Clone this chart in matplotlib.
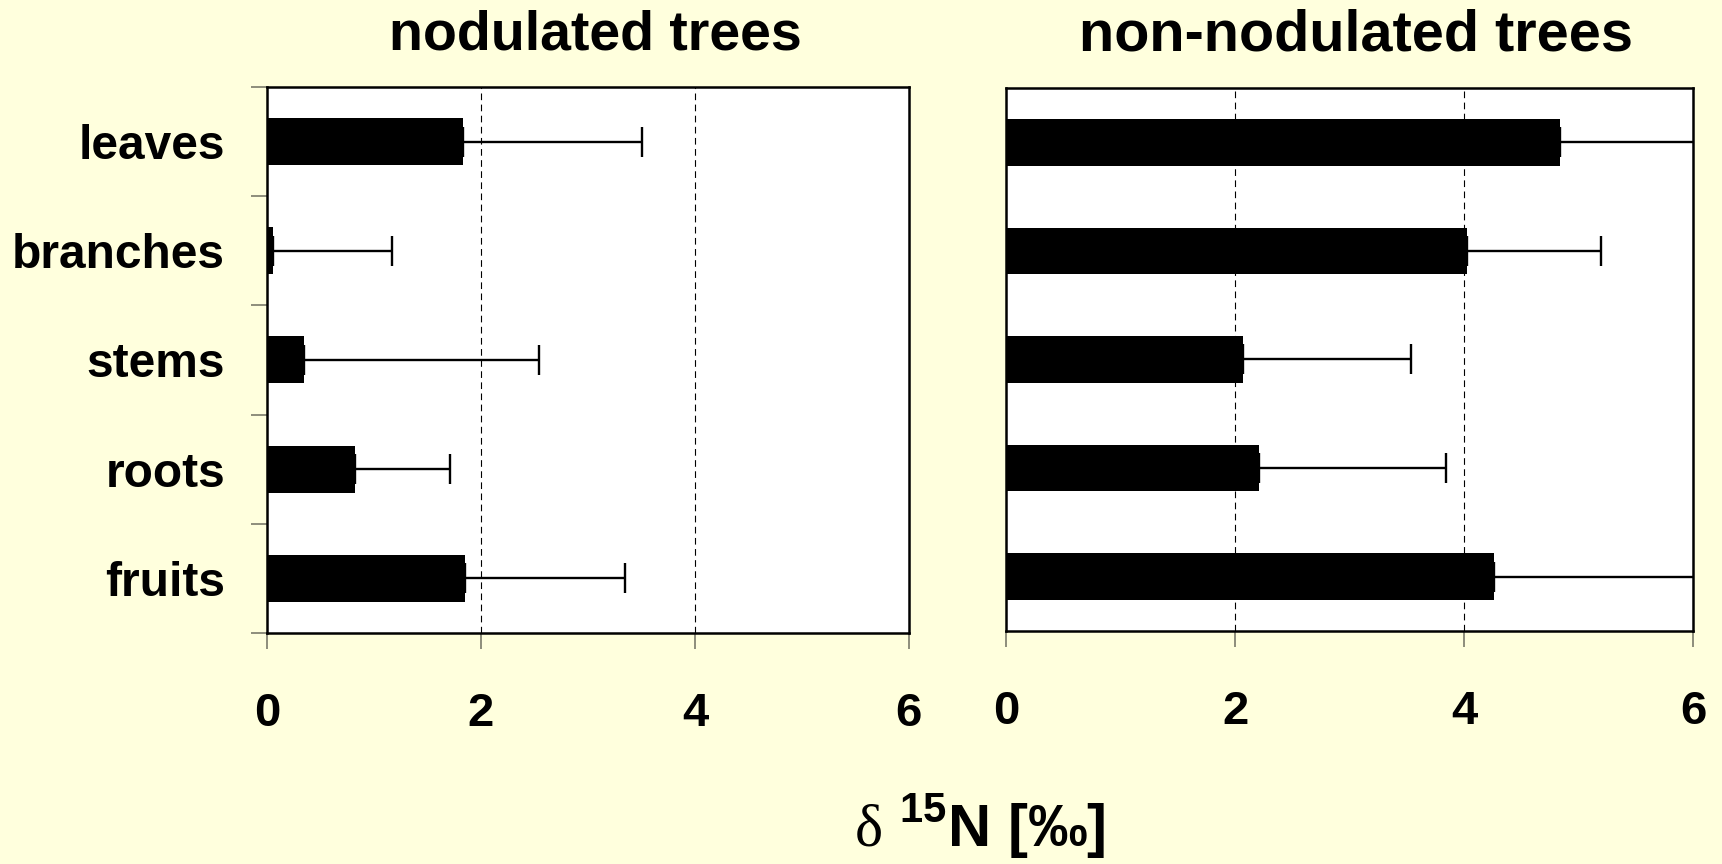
import matplotlib
matplotlib.use("Agg")
import matplotlib.pyplot as plt
import numpy as np

categories = ["leaves", "branches", "stems", "roots", "fruits"]

nod_mean = [1.83, 0.06, 0.35, 0.82, 1.85]
nod_sd = [1.68, 1.11, 2.19, 0.89, 1.50]

non_mean = [4.84, 4.03, 2.07, 2.21, 4.26]
non_sd = [1.50, 1.17, 1.47, 1.63, 2.00]

xticks = [0, 2, 4, 6]
titles = ["nodulated trees", "non-nodulated trees"]

plt.rcParams['font.family'] = ['Liberation Sans', 'DejaVu Sans']
plt.rcParams['mathtext.fontset'] = 'custom'
plt.rcParams['mathtext.rm'] = 'Liberation Serif'
plt.rcParams['mathtext.bf'] = 'Liberation Sans:bold'

bg = '#FFFFDD'
fig = plt.figure(figsize=(17.22, 8.64), dpi=100, facecolor=bg)

ax1 = fig.add_axes([0.155, 0.2674, 0.3728, 0.632])
ax2 = fig.add_axes([0.5842, 0.2697, 0.399, 0.6285])

y = np.arange(len(categories))
tick_gray = '#7a7a6a'

for ax, mean, sd, title, tsize, tx in [(ax1, nod_mean, nod_sd, titles[0], 40, 0.512),
                                       (ax2, non_mean, non_sd, titles[1], 41.5, 0.51)]:
    ax.set_facecolor('white')
    ax.set_axisbelow(True)
    ax.barh(y, mean, height=0.43, color='black', edgecolor='none', zorder=2)
    ax.errorbar(mean, y, xerr=[np.zeros(len(sd)), sd], fmt='none',
                ecolor='black', elinewidth=1.7, capsize=11, capthick=1.7,
                zorder=3)
    ax.set_xlim(0, 6)
    ax.set_ylim(4.5, -0.5)
    ax.set_xticks(xticks)
    ax.set_xticklabels([str(t) for t in xticks], fontsize=34, fontweight='bold')
    ax.tick_params(axis='x', length=11.5, width=1.2, color=tick_gray, pad=31)
    for xv in [2, 4]:
        ax.axvline(xv, color='black', lw=0.8, linestyle=(0, (6, 4)), zorder=1)
    for sp in ax.spines.values():
        sp.set_linewidth(1.8)
        sp.set_color('black')
    ax.set_title(title, fontsize=tsize, fontweight='bold', pad=27, x=tx)

ax1.set_yticks(y)
ax1.set_yticklabels(categories, fontsize=34.5, fontweight='bold')
ax1.tick_params(axis='y', which='major', length=0, pad=30)
ax1.set_yticks(np.arange(-0.5, 5.0, 1.0), minor=True)
ax1.tick_params(axis='y', which='minor', length=11.5, width=1.2, color=tick_gray)

ax2.set_yticks([])

fig.text(0.569, 0.02, r'$\mathrm{δ}$ $^{\mathbf{15}}$N [‰]', fontsize=43,
         fontweight='bold', ha='center', va='baseline')

fig.savefig('out.png', dpi=100, facecolor=bg)
